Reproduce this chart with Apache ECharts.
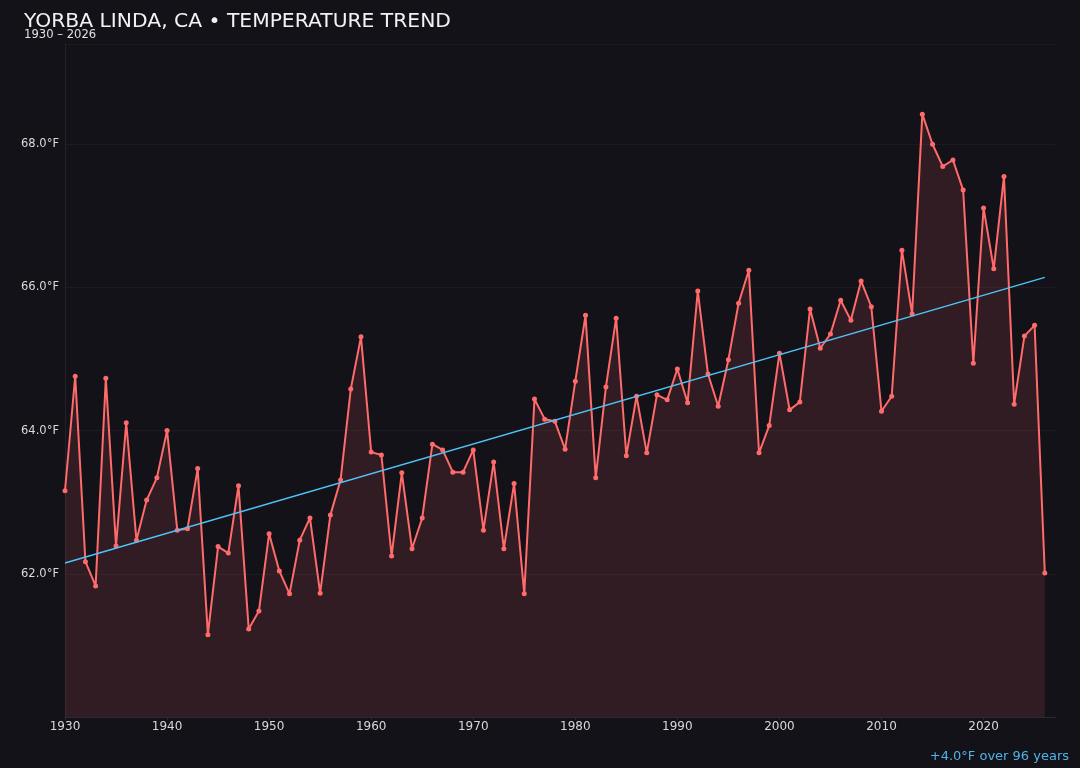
<!DOCTYPE html>
<html>
<head>
<meta charset="utf-8">
<title>Yorba Linda temperature trend</title>
<script src="https://cdn.jsdelivr.net/npm/echarts@6/dist/echarts.min.js"></script>
<style>
  html, body { margin: 0; padding: 0; background: #131218; }
  #chart { width: 1080px; height: 768px; }
</style>
</head>
<body>
<div id="chart"></div>
<script>
// annual mean temperature, °F, one value per year starting 1930
var firstYear = 1930;
var temps = [
  63.16, 64.76, 62.17, 61.83, 64.73, 62.39, 64.11, 62.47, 63.03, 63.34,
  64.00, 62.61, 62.63, 63.47, 61.15, 62.38, 62.29, 63.23, 61.23, 61.48,
  62.56, 62.04, 61.72, 62.47, 62.78, 61.73, 62.82, 63.31, 64.58, 65.31,
  63.70, 63.66, 62.25, 63.41, 62.35, 62.78, 63.81, 63.73, 63.42, 63.42,
  63.73, 62.61, 63.56, 62.35, 63.26, 61.72, 64.44, 64.16, 64.13, 63.74,
  64.69, 65.61, 63.34, 64.61, 65.57, 63.65, 64.48, 63.69, 64.50, 64.43,
  64.86, 64.39, 65.95, 64.79, 64.34, 64.99, 65.78, 66.24, 63.69, 64.07,
  65.08, 64.29, 64.40, 65.70, 65.15, 65.35, 65.82, 65.54, 66.09, 65.73,
  64.27, 64.48, 66.52, 65.63, 68.42, 68.00, 67.69, 67.78, 67.36, 64.94,
  67.11, 66.26, 67.55, 64.37, 65.32, 65.47, 62.01
];
// linear trend end points
var trendYears = [1930, 2026];
var trendTemps = [62.15, 66.14];

var titleText = 'YORBA LINDA, CA \u2022 TEMPERATURE TREND';
var subText = '1930 \u2013 2026';
var footText = '+4.0\u00b0F over 96 years';

var series1 = temps.map(function (t, i) { return [firstYear + i, t]; });
var trendData = trendYears.map(function (y, i) { return [y, trendTemps[i]]; });

var FONT = 'DejaVu Sans';
var chart = echarts.init(document.getElementById('chart'), null, { renderer: 'canvas' });

chart.setOption({
    backgroundColor: '#131218',
    animation: false,
    textStyle: { fontFamily: FONT },
    title: [{
        text: titleText,
        left: 19,
        top: 7,
        textStyle: { color: '#f2f2f2', fontSize: 20.3, fontWeight: 'normal', fontFamily: FONT }
    }, {
        text: subText,
        left: 19,
        top: 24,
        textStyle: { color: '#e0e0e0', fontSize: 11.6, fontWeight: 'normal', fontFamily: FONT }
    }, {
        text: footText,
        right: 6,
        top: 745,
        textStyle: { color: '#4fb3e8', fontSize: 13, fontWeight: 'normal', fontFamily: FONT }
    }],
    grid: { left: 65, right: 25, top: 44, bottom: 51 },
    xAxis: {
        type: 'value',
        min: 1930,
        max: 2027,
        interval: 10,
        axisLine: { show: true, lineStyle: { color: '#2a2a32', width: 1 } },
        axisTick: { show: true, length: 3, lineStyle: { color: '#2a2a32' } },
        axisLabel: {
            color: '#d8d8d8', fontSize: 12, margin: 4, fontFamily: FONT,
            showMaxLabel: false,
            formatter: function (v) { return String(v); }
        },
        splitLine: { show: false }
    },
    yAxis: {
        type: 'value',
        min: 60,
        max: 69.4,
        interval: 2,
        axisLine: { show: true, lineStyle: { color: '#23222a' } },
        axisTick: { show: false },
        axisLabel: {
            color: '#d8d8d8', fontSize: 11.5, margin: 6, fontFamily: FONT,
            showMinLabel: false, showMaxLabel: false,
            formatter: function (v) { return v.toFixed(1) + '\u00b0F'; }
        },
        splitLine: { show: true, lineStyle: { color: '#1c1b22', width: 1 } }
    },
    series: [{
        name: 'Temperature',
        type: 'line',
        data: series1,
        symbol: 'circle',
        symbolSize: 5,
        showSymbol: true,
        itemStyle: { color: '#ff6b6b' },
        lineStyle: { color: '#ff6b6b', width: 2 },
        areaStyle: { color: 'rgba(255,107,107,0.18)', origin: 'start' },
        z: 2
    }, {
        name: 'Trend',
        type: 'line',
        data: trendData,
        symbol: 'none',
        lineStyle: { color: '#4fc3f7', width: 1.5 },
        z: 3
    }]
});
</script>
</body>
</html>
